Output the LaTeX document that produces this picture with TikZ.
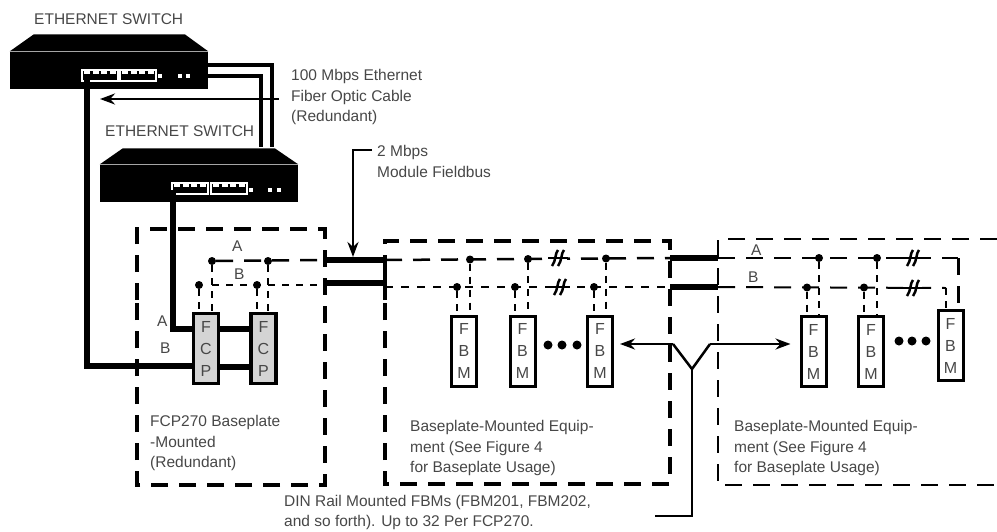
\documentclass[tikz,border=0pt]{standalone}
\usepackage{fontspec}
\setmainfont{Liberation Sans}
\usepackage{tikz}
\usetikzlibrary{arrows.meta}
\tikzset{
    lbl/.style={font=\fontsize{15.5}{20.5}\selectfont,text=black!72,align=left,anchor=west,inner sep=0pt},
    swbody/.style={fill=black,minimum width=198pt,minimum height=37pt,inner sep=0pt},
    fbmbox/.style={draw,fill=white,line width=3pt,minimum width=25pt,minimum height=70pt,inner sep=0pt,align=center,
        font=\fontsize{16}{22}\selectfont,text=black!72},
    fcpbox/.style={fbmbox,fill=black!17,line width=3.5pt},
    cable/.style={line width=6pt},
    thincable/.style={line width=4.5pt},
    bar/.style={line width=6.5pt},
    boxline/.style={line width=3.5pt,dash pattern=on 17pt off 11pt},
    busa/.style={line width=2.5pt,dash pattern=on 17pt off 11pt},
    busb/.style={line width=2.5pt,dash pattern=on 7pt off 7pt},
    drop/.style={line width=2.5pt,dash pattern=on 7pt off 6pt},
    dot/.style={circle,fill=black,inner sep=0pt,minimum size=8pt},
    bigdot/.style={circle,fill=black,inner sep=0pt,minimum size=9pt},
    pointer/.style={line width=2.5pt,-{Stealth[length=15pt,width=11pt]}},
}
\begin{document}
\begin{tikzpicture}[x=1pt,y=-1pt]
    \useasboundingbox (0,0) rectangle (997,531);

    % the two switches
    \node[swbody] (swa) at (109,70) {};
    \node[swbody] (swb) at (199,183) {};
    \fill (swa.north west) -- ++(24,-17) -- ++(151,0) -- (swa.north east) -- cycle;
    \fill (swb.north west) -- ++(23,-16) -- ++(152,0) -- (swb.north east) -- cycle;
    \foreach \px/\py in {82/70,120/70,172/183,211/183}{
        \draw[white,fill=black,line width=1.2pt] (\px,\py) rectangle ++(36,11);
        \foreach \k in {0,1,2,3}
            \fill[white] (\px+2+\k*8.5,\py+1) rectangle ++(6,3);
    }
    \foreach \px/\py in {160/76,180/76,188/76,251/190,270/190,279/190}
        \fill[white] (\px-2,\py-2) rectangle ++(4,4);

    \node[lbl] (titlea) at (34,19) {ETHERNET SWITCH};
    \node[lbl] (titleb) at (105,131) {ETHERNET SWITCH};

    % controllers and modules
    \node[fcpbox] (fcpa) at (206,348.5) {F\\C\\P};
    \node[fcpbox] (fcpb) at (263.5,348.5) {F\\C\\P};
    \node[fbmbox] (fbma) at (464,351) {F\\B\\M};
    \node[fbmbox] (fbmb) at (522.5,351) {F\\B\\M};
    \node[fbmbox] (fbmc) at (600,351) {F\\B\\M};
    \node[fbmbox] (fbmd) at (813.5,351.5) {F\\B\\M};
    \node[fbmbox] (fbme) at (871,351.5) {F\\B\\M};
    \node[fbmbox] (fbmf) at (950.5,345.5) {F\\B\\M};

    % dashed baseplates
    \draw[boxline] (137,300) -- (137,229) -- (325,229) -- (325,485) -- (137,485) -- cycle;
    \draw[boxline] (385,300) -- (385,241) -- (670,241) -- (670,484) -- (385,484) -- cycle;
    \draw[boxline,line width=2.5pt] (997,239) -- (718,239) -- (718,485) -- (997,485);

    % fiber cables
    \coordinate (porta) at (87,76);
    \coordinate (portb) at (173,190);
    \coordinate (upa) at (272,147);
    \coordinate (upb) at (261,147);
    \draw[thincable] ([yshift=5pt]swa.east) -| (upa);
    \draw[thincable] ([yshift=-6pt]swa.east) -| (upb);
    \draw[cable] (porta) |- ([yshift=-17.5pt]fcpa.west);
    \draw[cable] (portb) |- ([yshift=19.5pt]fcpa.west);
    \draw[cable] ([yshift=19.5pt]fcpa.east) -- ([yshift=19.5pt]fcpb.west);
    \draw[cable] ([yshift=-18pt]fcpa.east) -- ([yshift=-18pt]fcpb.west);

    % bus
    \foreach \n/\x/\y in {ka/212/261,kb/268/261,kc/199/285,kd/257/285,
        ma/470/259.5,mb/528/259,mc/606/258.5,md/457/287,me/515/287,mf/594/287,
        ra/819/258,rb/877/258,rc/807/287.5,rd/864/287.5}
        \node[dot] (\n) at (\x,\y) {};
    \coordinate (bara) at (325,260);
    \coordinate (barb) at (385,260);
    \coordinate (barc) at (325,283);
    \coordinate (bard) at (385,283);
    \coordinate (bare) at (670,258);
    \coordinate (barf) at (718,258);
    \coordinate (barg) at (670,287);
    \coordinate (barh) at (718,287);
    \coordinate (enda) at (958,258);
    \coordinate (endb) at (946,288);
    \coordinate (leftb) at (325,285);
    \coordinate (midb) at (385,287);
    \draw[bar] (bara) -- (barb);
    \draw[bar] (barc) -- (bard);
    \draw[bar] (bare) -- (barf);
    \draw[bar] (barg) -- (barh);
    \draw[line width=3.5pt] (barb) -- (bard);
    \draw[busa] (ka) -- (bara);
    \draw[busb] (ka |- leftb) -- (leftb);
    \draw[busa] (barb) -- (bare);
    \draw[busb,dash pattern=on 8pt off 8pt] (midb) -- (barg);
    \draw[busa,line width=2pt] (barf) -- (enda);
    \draw[line width=3pt,dash pattern=on 17pt off 11pt] (enda) -- (enda |- fbmf.north);
    \draw[busa,line width=2pt] (barh) -- (endb);
    \draw[drop] (endb) -- (endb |- fbmf.north);

    \foreach \d/\b in {ka/fcpa,kc/fcpa,kb/fcpb,kd/fcpb,ma/fbma,md/fbma,mb/fbmb,me/fbmb,
        mc/fbmc,mf/fbmc,ra/fbmd,rc/fbmd,rb/fbme,rd/fbme}
        \draw[drop] (\d) -- (\d |- \b.north);

    % break marks
    \foreach \bx/\by in {558/258,560/287,913/258,913/288}{
        \fill[white] (\bx-9,\by-4) rectangle (\bx+9,\by+4);
        \draw[line width=2.5pt] (\bx-10,\by) -- (\bx+10,\by);
        \draw[line width=2.5pt] (\bx-6,\by+8) .. controls (\bx-2,\by+3) and (\bx-3,\by-5) .. (\bx,\by-8);
        \draw[line width=2.5pt] (\bx,\by+8) .. controls (\bx+4,\by+3) and (\bx+3,\by-5) .. (\bx+6,\by-8);
    }

    % ellipsis dots
    \foreach \en/\ex/\ey in {ea/548/345,eb/562/345,ec/577/345,ed/899/341,ee/912/341,ef/926/341}
        \node[bigdot] (\en) at (\ex,\ey) {};

    % pointers and notes
    \coordinate (fibernote) at (279,99);
    \coordinate (fibertip) at (100,99);
    \draw[pointer] (fibernote) -- (fibertip);
    \coordinate (fieldnote) at (372,150);
    \coordinate (fieldtip) at (353,257);
    \draw[pointer] (fieldnote) -- (fieldtip |- fieldnote) -- (fieldtip);
    \coordinate (forkl) at (673,344);
    \coordinate (forkr) at (710,344);
    \coordinate (forkm) at (692,369);
    \coordinate (dinnote) at (655,516);
    \draw[pointer] (forkl) -- ([xshift=6pt]fbmc.east |- forkl);
    \draw[pointer] (forkr) -- ([xshift=-9pt]fbmd.west |- forkr);
    \draw[line width=2.5pt] (forkl) -- (forkm) -- (forkr);
    \draw[line width=2.5pt] (forkm) |- (dinnote);

    \node[lbl] (fibertxt) at (291,97) {100 Mbps Ethernet\\Fiber Optic Cable\\(Redundant)};
    \node[lbl] (fieldtxt) at (377,161.5) {2 Mbps\\Module Fieldbus};
    \node[lbl] (fcptxt) at (150,443) {FCP270 Baseplate\\-Mounted\\(Redundant)};
    \node[lbl] (basea) at (410,448) {Baseplate-Mounted Equip-\\ment (See Figure 4\\for Baseplate Usage)};
    \node[lbl] (baseb) at (734,448) {Baseplate-Mounted Equip-\\ment (See Figure 4\\for Baseplate Usage)};
    \node[lbl] (dintxt) at (284,512.5) {DIN Rail Mounted FBMs (FBM201, FBM202,\\and so forth). Up to 32 Per FCP270.};
    \node[lbl] (la) at (232,246) {A};
    \node[lbl] (lb) at (234,274) {B};
    \node[lbl] (lc) at (157,321) {A};
    \node[lbl] (ld) at (160,348) {B};
    \node[lbl] (le) at (751,250) {A};
    \node[lbl] (lf) at (748,277) {B};
\end{tikzpicture}
\end{document}
